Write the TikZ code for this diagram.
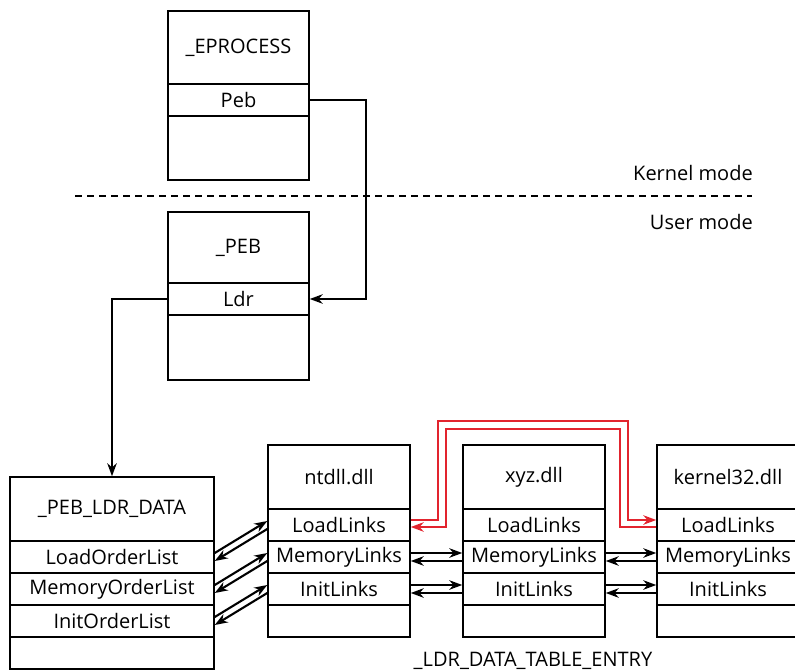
\documentclass[tikz,border=0pt]{standalone}
\usepackage{fontspec}
\setmainfont{Open Sans}
\usetikzlibrary{arrows.meta}
\definecolor{linkred}{RGB}{226,36,46}
\tikzset{
  cell/.style={draw,line width=1.5pt,minimum width=141pt,minimum height=32pt,
               inner sep=0pt,font=\fontsize{20}{22}\selectfont},
  hdr/.style={cell,minimum height=72pt},     % struct name
  fld/.style={cell},                         % one field
  tail/.style={cell,minimum height=64pt},    % rest of the struct
  lnk/.style={-{Stealth[length=13pt,width=9.5pt]},line width=2.1pt},
  redlnk/.style={lnk,draw=linkred,color=linkred},
  lbl/.style={font=\fontsize{20}{22}\selectfont,inner sep=0pt}
}

\begin{document}
\begin{tikzpicture}[x=1pt,y=-1pt]
  \clip (0,0) rectangle (795,671);

  % kernel side
  \node[hdr,minimum height=73pt] (eproc) at (238.5,47.5) {\_EPROCESS};
  \node[fld] (peb) at (238.5,100) {Peb};
  \node[tail] (eproctail) at (238.5,148) {};

  \draw[dashed,dash pattern=on 7pt off 5pt,line width=1.1pt] (75,196) -- (752,196);
  \node[lbl,anchor=east] (kmode) at (753,173) {Kernel mode};
  \node[lbl,anchor=east] (umode) at (753,222) {User mode};

  % user side
  \node[hdr,minimum height=71pt] (pebhdr) at (238.5,247.5) {\_PEB};
  \node[fld] (ldr) at (238.5,299) {Ldr};
  \node[tail,minimum height=65pt] (pebtail) at (238.5,347.5) {};

  \node[hdr,minimum width=204pt,minimum height=64pt] (ldrdata) at (112,509) {\_PEB\_LDR\_DATA};
  \node[fld,minimum width=204pt] (loadord) at (112,557) {LoadOrderList};
  \node[fld,minimum width=204pt] (memord) at (112,589) {MemoryOrderList};
  \node[fld,minimum width=204pt] (initord) at (112,621) {InitOrderList};
  \node[fld,minimum width=204pt] (ldrtail) at (112,653) {};

  % loader entries
  \node[hdr,minimum width=142pt,minimum height=64pt] (ntdll) at (339,477) {ntdll.dll};
  \node[fld,minimum width=142pt] (ntload) at (339,525) {LoadLinks};
  \node[fld,minimum width=142pt] (ntmem) at (339,557) {MemoryLinks};
  \node[fld,minimum width=142pt] (ntinit) at (339,589) {InitLinks};
  \node[fld,minimum width=142pt] (nttail) at (339,621) {};

  \node[hdr,minimum width=142pt,minimum height=64pt] (xyz) at (534,477) {xyz.dll};
  \node[fld,minimum width=142pt] (xload) at (534,525) {LoadLinks};
  \node[fld,minimum width=142pt] (xmem) at (534,557) {MemoryLinks};
  \node[fld,minimum width=142pt] (xinit) at (534,589) {InitLinks};
  \node[fld,minimum width=142pt] (xtail) at (534,621) {};

  \node[hdr,minimum width=142pt,minimum height=64pt] (k32) at (728,477) {kernel32.dll};
  \node[fld,minimum width=142pt] (kload) at (728,525) {LoadLinks};
  \node[fld,minimum width=142pt] (kmem) at (728,557) {MemoryLinks};
  \node[fld,minimum width=142pt] (kinit) at (728,589) {InitLinks};
  \node[fld,minimum width=142pt] (ktail) at (728,621) {};

  \node[lbl] (entry) at (533,661) {\_LDR\_DATA\_TABLE\_ENTRY};

  % pointers
  \draw[lnk] (peb.east) -- ++(56,0) |- (ldr.east);
  \draw[lnk] (ldr.west) -| (ldrdata.north);

  \draw[lnk] ([yshift=4pt]loadord.east) -- ([yshift=4pt]ntload.west);
  \draw[lnk] ([yshift=-4pt]ntload.west) -- ([yshift=-4pt]loadord.east);
  \draw[lnk] ([yshift=4pt]memord.east) -- ([yshift=4pt]ntmem.west);
  \draw[lnk] ([yshift=-4pt]ntmem.west) -- ([yshift=-4pt]memord.east);
  \draw[lnk] ([yshift=4pt]initord.east) -- ([yshift=4pt]ntinit.west);
  \draw[lnk] ([yshift=-4pt]ntinit.west) -- ([yshift=-4pt]initord.east);

  \draw[lnk] ([yshift=4pt]ntmem.east) -- ([yshift=4pt]xmem.west);
  \draw[lnk] ([yshift=-4pt]xmem.west) -- ([yshift=-4pt]ntmem.east);
  \draw[lnk] ([yshift=4pt]ntinit.east) -- ([yshift=4pt]xinit.west);
  \draw[lnk] ([yshift=-4pt]xinit.west) -- ([yshift=-4pt]ntinit.east);
  \draw[lnk] ([yshift=4pt]xmem.east) -- ([yshift=4pt]kmem.west);
  \draw[lnk] ([yshift=-4pt]kmem.west) -- ([yshift=-4pt]xmem.east);
  \draw[lnk] ([yshift=4pt]xinit.east) -- ([yshift=4pt]kinit.west);
  \draw[lnk] ([yshift=-4pt]kinit.west) -- ([yshift=-4pt]xinit.east);

  % load order list skips xyz.dll
  \coordinate (hiL) at (438,421);
  \coordinate (hiR) at (628,421);
  \coordinate (loL) at (446,429);
  \coordinate (loR) at (620,429);
  \draw[redlnk] ([yshift=5pt]ntload.east) -| (hiL) -- (hiR) |- ([yshift=5pt]kload.west);
  \draw[redlnk] ([yshift=-2pt]kload.west) -| (loR) -- (loL) |- ([yshift=-2pt]ntload.east);
\end{tikzpicture}
\end{document}
